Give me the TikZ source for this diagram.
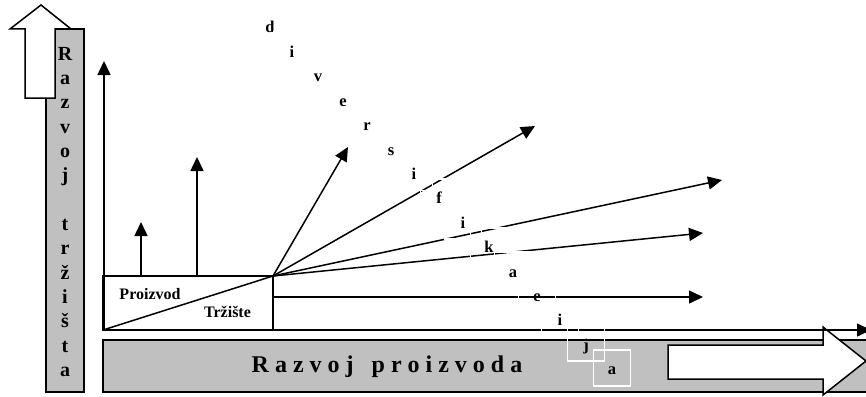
\documentclass[tikz,border=0pt]{standalone}
\usepackage{fontspec}
\setmainfont{Liberation Serif}
\usetikzlibrary{arrows.meta}
\definecolor{barfill}{RGB}{192,192,192}
\tikzset{
  ln/.style={line width=1.5pt, line cap=butt},
  arr/.style={ln, -{Triangle[length=14pt,width=13pt]}},
  bar/.style={fill=barfill, draw=black, line width=1.5pt},
  outl/.style={fill=white, draw=black, line width=1.5pt, line join=miter},
  vlet/.style={font=\fontsize{20}{22}\selectfont\bfseries, anchor=base, inner sep=0pt},
  dlet/.style={font=\fontsize{16.5}{18}\selectfont\bfseries, draw=white, line width=1.8pt,
    minimum width=37pt, minimum height=36pt, inner sep=0pt, text height=14pt, text depth=0pt},
  lbl/.style={font=\fontsize{16}{18}\selectfont\bfseries, anchor=base, inner sep=0pt},
  big/.style={font=\fontsize{24}{26}\selectfont\bfseries, anchor=base, inner sep=0pt},
}
\begin{document}
\begin{tikzpicture}[x=1pt,y=-1pt]
\useasboundingbox (0,0) rectangle (866,396);
% vertical bar "Razvoj trzista"
\draw[bar] (46,29) rectangle (84,392);
\draw[outl] (25,98) -- (25,29) -- (10,29) -- (41,5) -- (71,29) -- (55,29) -- (55,98) -- cycle;
\foreach \ch [count=\k from 0] in {R,a,z,v,o,j,{},t,r,ž,i,š,t,a}{
  \node[vlet] (v\k) at (65,{60+24.35*\k}) {\ch};
}
% horizontal bar "Razvoj proizvoda"
\draw[bar] (103,340) rectangle (875,392);
\draw[outl] (668,345) -- (823,345) -- (823,327) -- (866,361) -- (823,395) -- (823,379) -- (668,379) -- cycle;
\node[big] (rp) at (387,372) {R a z v o j~~~p r o i z v o d a};
% product/market box
\coordinate (BL) at (103,330);
\coordinate (O) at (273,276);
\draw[ln, line join=miter] (BL) rectangle (O);
\draw[ln] (BL) -- (O);
\node[lbl] (pr) at (150,299) {Proizvod};
\node[lbl] (tr) at (227.5,317) {Tržište};
% axes
\coordinate (Y) at (104,61);
\coordinate (X) at (871,330);
\coordinate (Yb) at (104,330);
\draw[arr] (Yb) -- (Y);
\draw[arr] (BL) -- (X);
% small vertical arrows
\coordinate (S1b) at (141,276); \coordinate (S1) at (141,222);
\coordinate (S2b) at (197,276); \coordinate (S2) at (197,157);
\draw[arr] (S1b) -- (S1);
\draw[arr] (S2b) -- (S2);
% fan of arrows
\coordinate (F1) at (348,147);
\coordinate (F2) at (535,126);
\coordinate (F3) at (722,180);
\coordinate (F4) at (703,233);
\coordinate (H0) at (273,297);
\coordinate (H1) at (703,297);
\draw[arr] (O) -- (F1);
\draw[arr] (O) -- (F2);
\draw[arr] (O) -- (F3);
\draw[arr] (O) -- (F4);
\draw[arr] (H0) -- (H1);
% diagonal word "diversifikacija"
\foreach \ch/\xx [count=\k from 0] in {d/270,i/292,v/318,e/343,r/367,s/391,i/414,f/439,i/463,k/489,a/513,e/537,i/560,j/586,a/612}{
  \node[dlet] (d\k) at (\xx,{33+24.4*\k-7}) {\ch};
}
\end{tikzpicture}
\end{document}
